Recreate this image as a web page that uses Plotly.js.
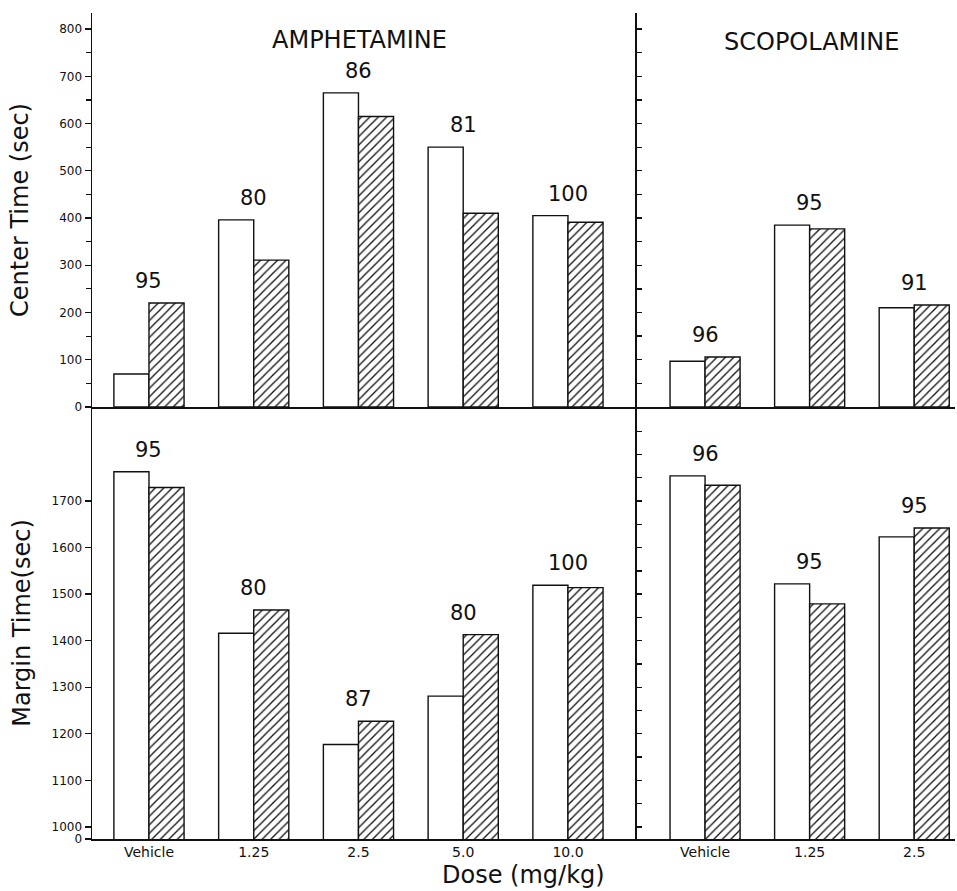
<!DOCTYPE html>
<html>
<head>
<meta charset="utf-8">
<script src="https://cdn.plot.ly/plotly-3.0.1.min.js"></script>
<style>html,body{margin:0;padding:0;background:#fff;}#chart{width:957px;height:891px;}</style>
</head>
<body>
<div id="chart"></div>
<script>
// ---- data ----
const amphDoses = ["Vehicle", "1.25", "2.5", "5.0", "10.0"];
const scopDoses = ["Vehicle", "1.25", "2.5"];

const centerAmphOpen    = [70, 396, 665, 550, 405];
const centerAmphHatched = [220, 311, 615, 410, 391];
const centerScopOpen    = [97, 385, 210];
const centerScopHatched = [106, 377, 216];

const marginAmphOpen    = [1763, 1416, 1177, 1281, 1519];
const marginAmphHatched = [1729, 1466, 1227, 1413, 1514];
const marginScopOpen    = [1754, 1522, 1623];
const marginScopHatched = [1734, 1479, 1642];

const centerAmphN = ["95", "80", "86", "81", "100"];
const centerScopN = ["96", "95", "91"];
const marginAmphN = ["95", "80", "87", "80", "100"];
const marginScopN = ["96", "95", "95"];

const centerTicks = [0, 100, 200, 300, 400, 500, 600, 700, 800];
const marginTicks = [1000, 1100, 1200, 1300, 1400, 1500, 1600, 1700];

// ---- styling ----
const FONT = "DejaVu Sans, sans-serif";
const BLACK = "#111";
const openMarker = {color: "#fff", line: {color: BLACK, width: 1.4}};
const hatchMarker = {color: "#fff", line: {color: BLACK, width: 1.4},
  pattern: {shape: "/", fgcolor: BLACK, bgcolor: "#fff", size: 6, solidity: 0.22}};

function pair(x, open, hatched, xa, ya) {
  return [
    {type: "bar", x: x, y: open, xaxis: xa, yaxis: ya, name: "Open", marker: openMarker, showlegend: false, hoverinfo: "x+y"},
    {type: "bar", x: x, y: hatched, xaxis: xa, yaxis: ya, name: "Hatched", marker: hatchMarker, showlegend: false, hoverinfo: "x+y"}
  ];
}

const data = [].concat(
  pair(amphDoses, centerAmphOpen, centerAmphHatched, "x", "y"),
  pair(scopDoses, centerScopOpen, centerScopHatched, "x2", "y2"),
  pair(amphDoses, marginAmphOpen, marginAmphHatched, "x3", "y3"),
  pair(scopDoses, marginScopOpen, marginScopHatched, "x4", "y4")
);

// number of animals above each pair: x is the category index on the category axis
function nLabels(x, open, hatched, labels, xr, yr) {
  return x.map((c, i) => ({
    x: i, y: Math.max(open[i], hatched[i]), xref: xr, yref: yr,
    text: labels[i], showarrow: false, xanchor: "center", yanchor: "bottom", yshift: 8,
    font: {family: FONT, size: 21, color: BLACK}
  }));
}

const split = 0.6315;
const lowTop = 0.523;
const centerRange = [0, 834];
const marginRange = [974, 1902];

const baseX = {type: "category", showline: true, linecolor: BLACK, linewidth: 1.5,
  ticks: "", showgrid: false, zeroline: false, fixedrange: true};
const baseY = {showline: true, linecolor: BLACK, linewidth: 1.5, showgrid: false,
  zeroline: false, tickcolor: BLACK, tickwidth: 1.3, fixedrange: true,
  tickfont: {family: FONT, size: 12, color: BLACK}};

const layout = {
  width: 957, height: 891,
  margin: {l: 92, r: 2, t: 13, b: 52},
  paper_bgcolor: "#fff", plot_bgcolor: "rgba(0,0,0,0)",
  barmode: "group", bargap: 0.33, bargroupgap: 0,
  font: {family: FONT, color: BLACK},
  showlegend: false,
  xaxis: Object.assign({}, baseX, {domain: [0, split], anchor: "y", range: [-0.544, 4.659], showticklabels: false}),
  xaxis2: Object.assign({}, baseX, {domain: [split, 1], anchor: "y2", range: [-0.651, 2.39], showticklabels: false}),
  xaxis3: Object.assign({}, baseX, {domain: [0, split], anchor: "y3", range: [-0.544, 4.659],
    showticklabels: true, tickfont: {family: FONT, size: 14, color: BLACK}}),
  xaxis4: Object.assign({}, baseX, {domain: [split, 1], anchor: "y4", range: [-0.651, 2.39],
    showticklabels: true, tickfont: {family: FONT, size: 14, color: BLACK}}),
  yaxis: Object.assign({}, baseY, {domain: [lowTop, 1], anchor: "x", range: centerRange,
    tickmode: "array", tickvals: centerTicks, ticks: "outside", ticklen: 6,
    minor: {ticks: "outside", dtick: 50, tick0: 0, ticklen: 5, tickcolor: BLACK, tickwidth: 1.2},
    title: {text: "Center Time (sec)", standoff: 24, font: {family: FONT, size: 24, color: BLACK}}}),
  yaxis2: Object.assign({}, baseY, {domain: [lowTop, 1], anchor: "x2", range: centerRange,
    tickmode: "linear", tick0: 0, dtick: 50, ticks: "inside", ticklen: 5, showticklabels: false}),
  yaxis3: Object.assign({}, baseY, {domain: [0, lowTop], anchor: "x3", range: marginRange,
    tickmode: "array", tickvals: [marginRange[0]].concat(marginTicks),
    ticktext: ["0"].concat(marginTicks.map(String)), ticks: "outside", ticklen: 6,
    title: {text: "Margin Time(sec)", standoff: 14, font: {family: FONT, size: 24, color: BLACK}}}),
  yaxis4: Object.assign({}, baseY, {domain: [0, lowTop], anchor: "x4", range: marginRange,
    tickmode: "linear", tick0: 1000, dtick: 50, ticks: "inside", ticklen: 5, showticklabels: false}),
  annotations: [].concat(
    nLabels(amphDoses, centerAmphOpen, centerAmphHatched, centerAmphN, "x", "y"),
    nLabels(scopDoses, centerScopOpen, centerScopHatched, centerScopN, "x2", "y2"),
    nLabels(amphDoses, marginAmphOpen, marginAmphHatched, marginAmphN, "x3", "y3"),
    nLabels(scopDoses, marginScopOpen, marginScopHatched, marginScopN, "x4", "y4"),
    [
      {text: "AMPHETAMINE", xref: "paper", yref: "paper", x: 0.3105, y: 0.967, showarrow: false,
       xanchor: "center", yanchor: "middle", font: {family: FONT, size: 24, color: BLACK}},
      {text: "SCOPOLAMINE", xref: "paper", yref: "paper", x: 0.834, y: 0.965, showarrow: false,
       xanchor: "center", yanchor: "middle", font: {family: FONT, size: 24, color: BLACK}},
      {text: "Dose (mg/kg)", xref: "paper", yref: "paper", x: 0.50, y: -0.0436, showarrow: false,
       xanchor: "center", yanchor: "middle", font: {family: FONT, size: 24, color: BLACK}}
    ]
  )
};

Plotly.newPlot("chart", data, layout, {staticPlot: true, displayModeBar: false});
</script>
</body>
</html>
